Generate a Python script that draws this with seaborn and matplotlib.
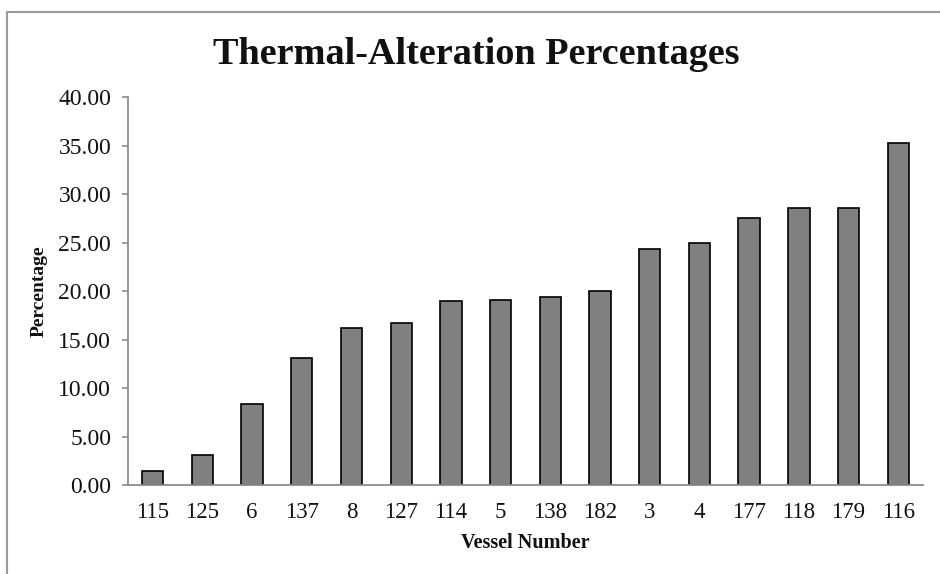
import matplotlib
matplotlib.use('Agg')
import pandas as pd
import seaborn as sns
import matplotlib.pyplot as plt
from matplotlib.lines import Line2D

vessels = ['115', '125', '6', '137', '8', '127', '114', '5',
           '138', '182', '3', '4', '177', '118', '179', '116']
percentages = [1.48, 3.10, 8.36, 13.07, 16.23, 16.69, 18.96, 19.09,
               19.37, 20.02, 24.32, 25.00, 27.58, 28.59, 28.59, 35.33]
yticks = [0, 5, 10, 15, 20, 25, 30, 35, 40]

df = pd.DataFrame({'vessel': vessels, 'pct': percentages})

sns.set_theme(style='white')
plt.rcParams['font.family'] = ['Liberation Serif', 'DejaVu Serif']

fig = plt.figure(figsize=(9.4, 5.74), dpi=100)
ax = fig.add_axes([0.136, 0.155, 0.846, 0.6755])

sns.barplot(data=df, x='vessel', y='pct', order=vessels, color='#808080',
            saturation=1, edgecolor='black', linewidth=1.2, width=0.43, ax=ax)

ax.set_xlim(-0.5, len(vessels) - 0.5)
ax.set_ylim(0, 40)
ax.set_yticks(yticks)
ax.set_yticklabels([f'{v:.2f}' for v in yticks])

for side in ('top', 'right'):
    ax.spines[side].set_visible(False)
for side in ('left', 'bottom'):
    ax.spines[side].set_color('#8c8c8c')
    ax.spines[side].set_linewidth(1.3)

ax.tick_params(axis='y', left=True, length=4, width=1.2, color='#8c8c8c',
               pad=8, labelsize=17, labelcolor='#111111')
ax.tick_params(axis='x', bottom=False, length=0, pad=12, labelsize=16.5,
               labelcolor='#111111')

ax.set_xlabel('Vessel Number', fontsize=14.5, fontweight='bold', color='#111111')
ax.xaxis.label.set_va('center')
ax.xaxis.set_label_coords(0.5, -0.150)
ax.set_ylabel('Percentage', fontsize=14, fontweight='bold', color='#111111')
ax.yaxis.label.set_va('center')
ax.yaxis.set_label_coords(-0.112, 0.5)

fig.text(0.507, 0.905, 'Thermal-Alteration Percentages', ha='center', va='center',
         fontsize=27.5, fontweight='bold', color='#111111')

# outer frame (only top and left edges are inside the image)
fig.add_artist(Line2D([7 / 940, 1], [1 - 12 / 574, 1 - 12 / 574],
                      transform=fig.transFigure, color='#999999', lw=1.5))
fig.add_artist(Line2D([7 / 940, 7 / 940], [0, 1 - 12 / 574],
                      transform=fig.transFigure, color='#999999', lw=1.5))

fig.savefig('out.png', dpi=100)
